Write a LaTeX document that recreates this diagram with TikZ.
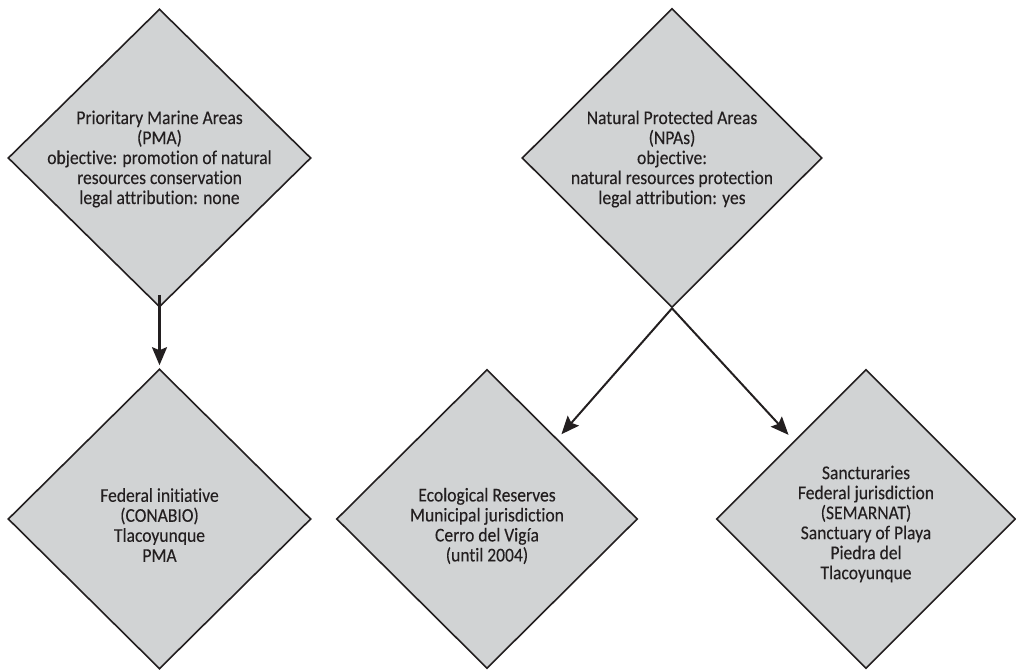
\documentclass[tikz,border=0pt]{standalone}
\usepackage{fontspec}
\setmainfont[FakeStretch=0.9, FakeBold=0.15, RawFeature={-liga}]{Carlito}
\usetikzlibrary{shapes.geometric,arrows.meta}
\definecolor{dfill}{HTML}{D1D3D4}
\definecolor{dline}{HTML}{231F20}
\definecolor{dtext}{HTML}{231F20}
\tikzset{
  dbox/.style={shape=diamond, draw=dline, fill=dfill, line width=1.6pt, inner sep=0pt},
  dtxt/.style={align=center, text=dtext, font=\fontsize{19.5}{20}\selectfont, inner sep=0pt},
  conn/.style={draw=dline, line width=2pt, -{Stealth[length=18pt,width=15pt,inset=3pt]}},
}
\begin{document}
\begin{tikzpicture}[x=1pt,y=-1pt]
\useasboundingbox (0,0) rectangle (1016,671);
\node[dbox, minimum width=303pt, minimum height=298pt] (pma) at (159.5,158) {};
\node[dbox, minimum width=300pt, minimum height=299pt] (npa) at (672,158) {};
\node[dbox, minimum width=303pt, minimum height=300pt] (fed) at (159.5,519) {};
\node[dbox, minimum width=301pt, minimum height=299pt] (eco) at (487,519) {};
\node[dbox, minimum width=299pt, minimum height=299pt] (sanc) at (866,519) {};
\node[dtxt] (pmat) at (159.5,159) {Prioritary Marine Areas\\(PMA)\\objective: promotion of natural\\resources conservation\\legal attribution: none};
\node[dtxt] (npat) at (672,159) {Natural Protected Areas\\(NPAs)\\objective:\\natural resources protection\\legal attribution: yes};
\node[dtxt] (fedt) at (159.5,525) {Federal initiative\\(CONABIO)\\Tlacoyunque\\PMA};
\node[dtxt] (ecot) at (487,526) {Ecological Reserves\\Municipal jurisdiction\\Cerro del Vig\'{\i}a\\(until 2004)};
\node[dtxt] (senct) at (866,524) {Sancturaries\\Federal jurisdiction\\(SEMARNAT)\\Sanctuary of Playa\\Piedra del\\Tlacoyunque};
\draw[conn, line width=2.4pt] ([yshift=13pt]pma.south) -- (fed.north) [shorten >=3pt];
\draw[conn] (npa.south) -- (eco) [shorten >=6pt];
\draw[conn] (npa.south) -- (sanc) [shorten >=8pt];
\end{tikzpicture}
\end{document}
